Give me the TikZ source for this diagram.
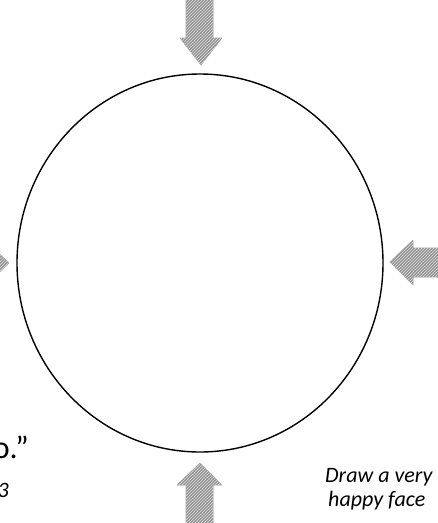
\documentclass[tikz,border=0pt]{standalone}
\usepackage{fontspec}
\setmainfont{Carlito}
\usetikzlibrary{patterns}
\tikzset{
  fatarrow/.style={fill=gray!85, draw=gray!75, line width=0.6pt, line join=round},
  hatch/.style={pattern=north east lines, pattern color=gray!25},
  note/.style={font=\fontsize{22}{26}\selectfont\itshape, inner sep=0pt, align=left},
}
\begin{document}
\begin{tikzpicture}[x=1pt,y=-1pt]
\useasboundingbox (0,0) rectangle (438,523);
\clip (0,0) rectangle (438,523);
% circle
\draw[line width=1.4pt] (200,263) ellipse [x radius=183, y radius=189];
% arrow shapes
\def\downarrowp{(186,-5) -- (213,-5) -- (213,38) -- (222,38) -- (201,65) -- (180,38) -- (186,38) -- cycle}
\def\uparrowp{(186,530) -- (213,530) -- (213,485) -- (222,485) -- (200,463) -- (177,485) -- (186,485) -- cycle}
\def\leftarrowp{(445,248) -- (445,277) -- (413,277) -- (413,285) -- (390,262) -- (413,240) -- (413,248) -- cycle}
\def\rightarrowp{(-40,251) -- (-40,276) -- (-14,276) -- (-14,285) -- (9,263) -- (-14,241) -- (-14,251) -- cycle}
\foreach \p in {\downarrowp,\uparrowp,\leftarrowp,\rightarrowp}{
  \fill[fatarrow] \p;
  \fill[hatch] \p;
}
% texts
\node[anchor=base east, inner sep=0pt, font=\fontsize{32}{38}\selectfont] (quoteend) at (29,458) {o.”};
\node[anchor=base east, note] (leftnote) at (9,497) {3};
\node[anchor=base west, note] (line1) at (325,482) {Draw a very};
\node[anchor=base west, note] (line2) at (328,506) {happy face};
\end{tikzpicture}
\end{document}
